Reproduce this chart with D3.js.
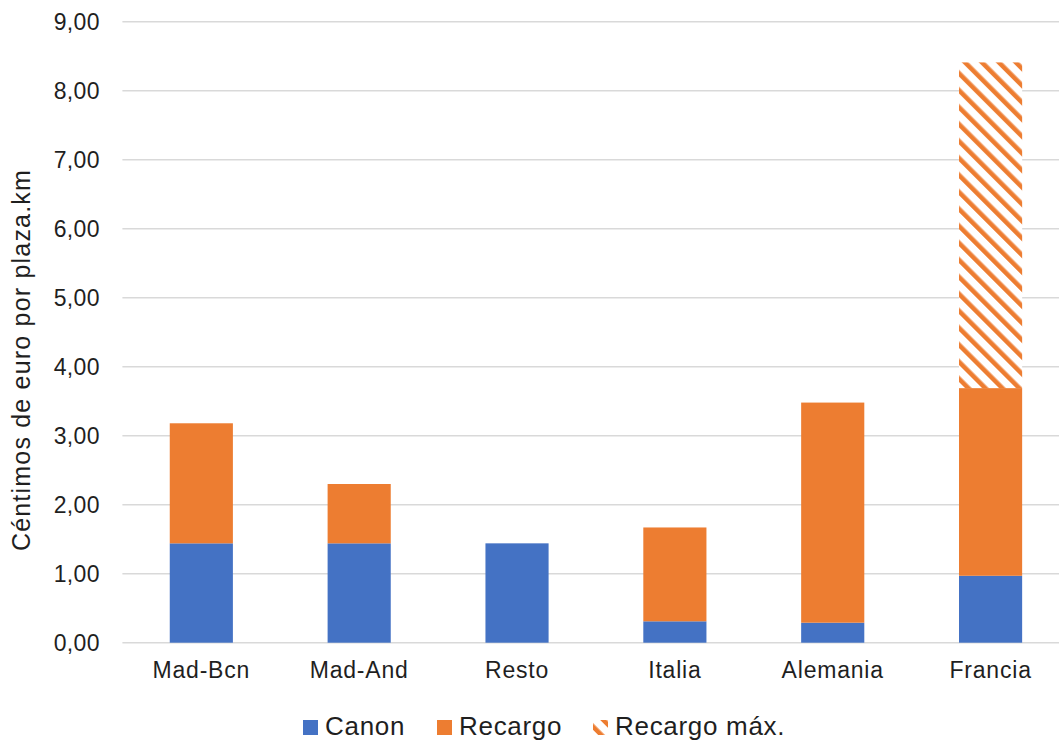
<!DOCTYPE html>
<html>
<head>
<meta charset="utf-8">
<script src="https://cdn.jsdelivr.net/npm/d3@7"></script>
<style>
  html, body { margin: 0; padding: 0; background: #fff; }
  svg { display: block; font-family: "Liberation Sans", Arial, sans-serif; }
</style>
</head>
<body>
<svg id="chart" width="1059" height="740"></svg>
<script>
const categories = ["Mad-Bcn", "Mad-And", "Resto", "Italia", "Alemania", "Francia"];
const canon      = [1.44, 1.44, 1.44, 0.31, 0.29, 0.97];
const recargo    = [1.74, 0.86, 0.00, 1.36, 3.19, 2.72];
const recargoMax = [0, 0, 0, 0, 0, 4.72];
const yTicks     = [0, 1, 2, 3, 4, 5, 6, 7, 8, 9];
const seriesNames = ["Canon", "Recargo", "Recargo máx."];

const colBlue = "#4472C4", colOrange = "#ED7D31", textCol = "#1f1f1f";

const svg = d3.select("#chart");
const W = 1059, H = 740;
svg.append("rect").attr("width", W).attr("height", H).attr("fill", "#fff");

const defs = svg.append("defs");
const pat = defs.append("pattern")
  .attr("id", "stripes").attr("patternUnits", "userSpaceOnUse")
  .attr("width", 12).attr("height", 12)
  .attr("patternTransform", "rotate(-45)");
pat.append("rect").attr("width", 12).attr("height", 12).attr("fill", "#fff");
pat.append("rect").attr("width", 4.6).attr("height", 12).attr("fill", colOrange);

const x = d3.scaleBand().domain(categories).range([122.4, 1069.5]).paddingInner(0.6).paddingOuter(0.3);
const y = d3.scaleLinear().domain([0, 9]).range([642.7, 21.7]);

// gridlines
svg.append("g").selectAll("line").data(yTicks).join("line")
  .attr("x1", 122.4).attr("x2", W)
  .attr("y1", d => y(d)).attr("y2", d => y(d))
  .attr("stroke", "#d9d9d9").attr("stroke-width", 1.5);

// y axis labels
const yAxis = d3.axisLeft(y).tickValues(yTicks).tickSize(0).tickPadding(0)
  .tickFormat(d => d3.format(".2f")(d).replace(".", ","));
const gy = svg.append("g").attr("transform", "translate(100,0)").call(yAxis);
gy.select(".domain").remove();
gy.selectAll("text").attr("font-size", 23).attr("letter-spacing", 0.4).attr("fill", textCol).attr("font-family", "Liberation Sans, Arial, sans-serif");

// stacked bars
const rows = categories.map((c, i) => ({ cat: c, canon: canon[i], recargo: recargo[i], max: recargoMax[i] }));
const stack = d3.stack().keys(["canon", "recargo", "max"])(rows);
const fills = [colBlue, colOrange, "url(#stripes)"];
stack.forEach((layer, li) => {
  svg.append("g").selectAll("rect").data(layer.filter(d => d[1] - d[0] > 0)).join("rect")
    .attr("x", d => x(d.data.cat))
    .attr("width", x.bandwidth())
    .attr("y", d => y(d[1]))
    .attr("height", d => y(d[0]) - y(d[1]))
    .attr("fill", fills[li]);
});

// x axis labels
const xAxis = d3.axisBottom(x).tickSize(0).tickPadding(0);
const gx = svg.append("g").attr("transform", "translate(0,662)").call(xAxis);
gx.select(".domain").remove();
gx.selectAll("text").attr("font-size", 23).attr("letter-spacing", 0.8).attr("fill", textCol).attr("font-family", "Liberation Sans, Arial, sans-serif");

// y title
svg.append("text")
  .attr("transform", "translate(30,360) rotate(-90)")
  .attr("text-anchor", "middle")
  .attr("font-size", 25).attr("letter-spacing", 1.2).attr("fill", textCol)
  .text("Céntimos de euro por plaza.km");

// legend
const legendX = [303, 437, 593];
const lg = svg.append("g");
seriesNames.forEach((name, i) => {
  const g = lg.append("g").attr("transform", `translate(${legendX[i]},0)`);
  g.append("rect").attr("x", 0).attr("y", 720).attr("width", 15).attr("height", 15)
    .attr("fill", fills[i]);
  g.append("text").attr("x", 22).attr("y", 735).attr("font-size", 26).attr("letter-spacing", 0.7).attr("fill", textCol).text(name);
});
</script>
</body>
</html>
